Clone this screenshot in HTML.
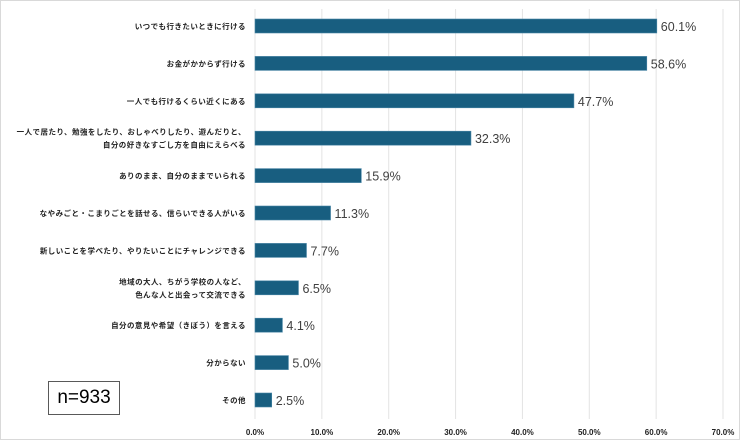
<!DOCTYPE html>
<html><head><meta charset="utf-8"><style>
body{margin:0;background:#fff}
#c{position:relative;width:740px;height:440px;overflow:hidden;font-family:"Liberation Sans","Noto Sans CJK JP",sans-serif;border:1px solid #d9d9d9;box-sizing:border-box}
</style></head><body>
<div id="c">
<svg id="s" width="740" height="440"></svg>
<div style="position:absolute;left:47px;top:380px;width:72px;height:34px;border:1px solid #595959;box-sizing:border-box;font-size:19px;text-align:center;line-height:32px;color:#000">n=933</div>
</div>
<script>
const categories=[["いつでも行きたいときに行ける"],["お金がかからず行ける"],["一人でも行けるくらい近くにある"],["一人で居たり、勉強をしたり、おしゃべりしたり、遊んだりと、","自分の好きなすごし方を自由にえらべる"],["ありのまま、自分のままでいられる"],["なやみごと・こまりごとを話せる、信らいできる人がいる"],["新しいことを学べたり、やりたいことにチャレンジできる"],["地域の大人、ちがう学校の人など、","色んな人と出会って交流できる"],["自分の意見や希望（きぼう）を言える"],["分からない"],["その他"]];
const values=[60.1,58.6,47.7,32.3,15.9,11.3,7.7,6.5,4.1,5.0,2.5];
const ticks=[0,10,20,30,40,50,60,70];
const NS="http://www.w3.org/2000/svg",s=document.getElementById('s');
const x=v=>254+v*(722-254)/70;
const y=i=>25+i*37.4;
function mk(t,a,txt){const e=document.createElementNS(NS,t);for(const k in a)e.setAttribute(k,a[k]);if(txt!=null)e.textContent=txt;s.appendChild(e);return e;}
ticks.forEach(t=>{
 const g=mk('line',{x1:x(t),x2:x(t),y1:8,y2:418,stroke:'#e3e3e3','stroke-width':1});
 
 
 const l=mk('text',{x:x(t),y:434,'text-anchor':'middle','font-size':8,'font-weight':'bold',fill:'#222'},t.toFixed(1)+'%');
 
 
});
values.forEach((v,i)=>{
 const b=mk('rect',{x:x(0),y:y(i)-7,width:x(v)-x(0),height:14,fill:'#185e80',stroke:'#4a86a6','stroke-width':0.6});
 
 
 const vl=mk('text',{x:x(v)+4,y:y(i)+5,'font-size':12.5,fill:'#404040'},v.toFixed(1)+'%');
 
 
 const lines=categories[i];
 lines.forEach((ln,j)=>{
  const cy=y(i)+3+(j-(lines.length-1)/2)*13;
  const tl=mk('text',{x:245,y:cy,'text-anchor':'end','font-size':7.5,'font-weight':'bold',fill:'#222','letter-spacing':0.45},ln);
  
  
 });
});
</script>
</body></html>
